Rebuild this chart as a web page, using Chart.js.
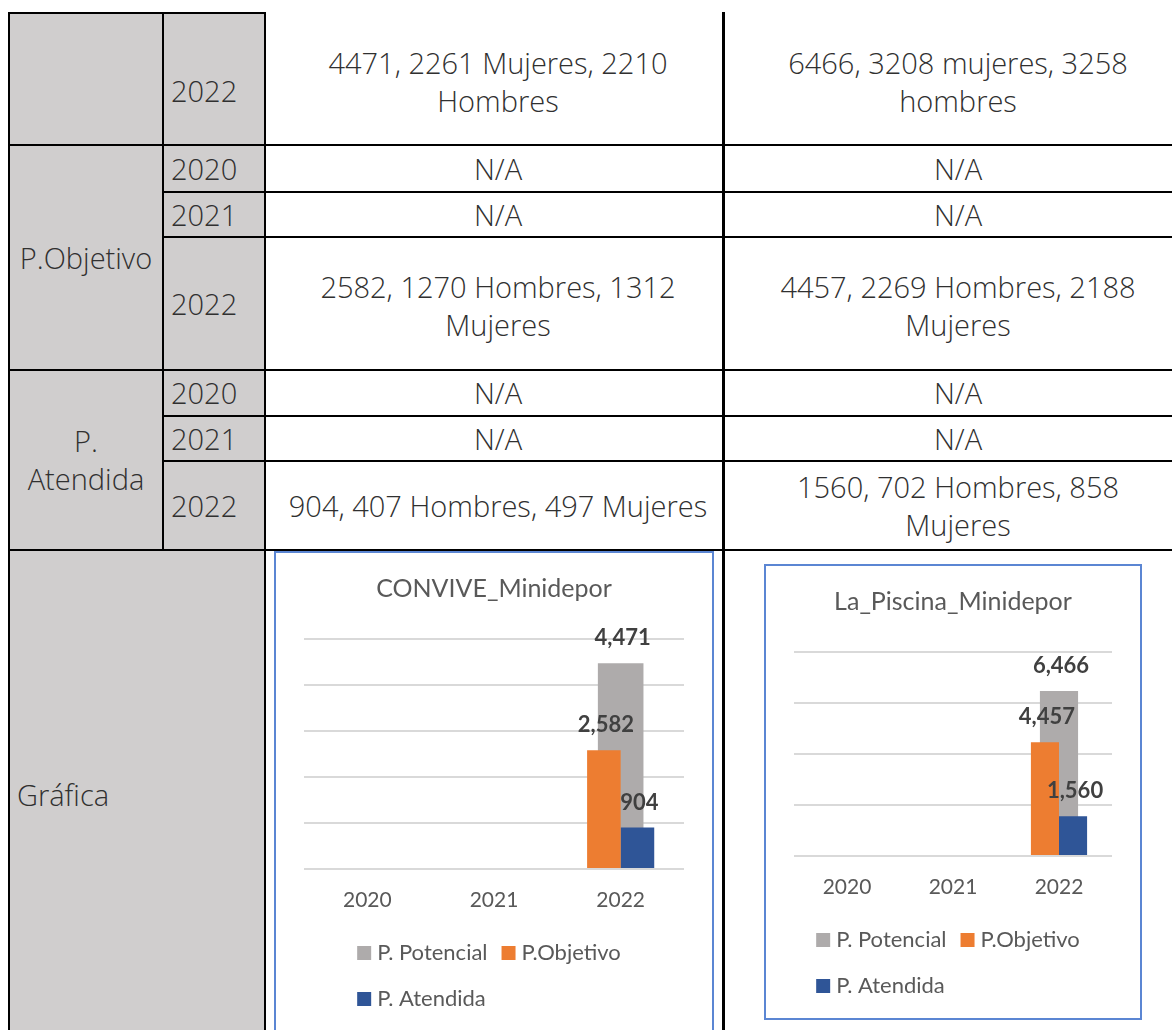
<!DOCTYPE html>
<html lang="es">
<head>
<meta charset="utf-8">
<title>CONVIVE_Minidepor / La_Piscina_Minidepor</title>
<script src="https://cdn.jsdelivr.net/npm/chart.js@4.4.1/dist/chart.umd.min.js"></script>
<style>
  html, body { margin: 0; padding: 0; background: #fff; }
  body { width: 1172px; height: 1030px; overflow: hidden; position: relative;
         font-family: 'Open Sans', sans-serif; font-weight: 300; font-size: 29px; color: #303030; }
  .gris { position: absolute; left: 8px; top: 12px; width: 257px; height: 1030px; background: #d0cece; }
  .lh, .lv { position: absolute; background: #000; }
  .lh { height: 2px; }
  .lv { width: 2px; }
  .t { position: absolute; display: flex; align-items: center; justify-content: center;
       text-align: center; line-height: 38px; white-space: nowrap; height: 60px; }
  .t2 { height: 100px; }
  .izq { justify-content: flex-start; text-align: left; }
  .c1 { left: 10px; width: 152px; }
  .c2 { left: 171px; width: 90px; }
  .c3 { left: 267px; width: 462px; }
  .c4 { left: 726px; width: 464px; }
  .caja { position: absolute; box-sizing: border-box; border: 2px solid #5b86d3; background: #fff; }
  .caja div { position: absolute; left: 0; top: 0; right: 0; bottom: 0; }
</style>
</head>
<body>
<div class="gris"></div>

<!-- columna 1 -->
<div class="t c1" style="top:228px">P.Objetivo</div>
<div class="t t2 c1" style="top:410px">P.<br>Atendida</div>
<div class="t izq" style="left:17px; top:765px">Gráfica</div>

<!-- columna 2 -->
<div class="t izq c2" style="top:61px">2022</div>
<div class="t izq c2" style="top:138.5px">2020</div>
<div class="t izq c2" style="top:184.5px">2021</div>
<div class="t izq c2" style="top:273.5px">2022</div>
<div class="t izq c2" style="top:363px">2020</div>
<div class="t izq c2" style="top:408.5px">2021</div>
<div class="t izq c2" style="top:475.5px">2022</div>

<!-- columna 3 -->
<div class="t t2 c3" style="top:31.5px">4471, 2261 Mujeres, 2210<br>Hombres</div>
<div class="t c3" style="top:138.5px">N/A</div>
<div class="t c3" style="top:184.5px">N/A</div>
<div class="t t2 c3" style="top:255.5px">2582, 1270 Hombres, 1312<br>Mujeres</div>
<div class="t c3" style="top:363px">N/A</div>
<div class="t c3" style="top:408.5px">N/A</div>
<div class="t c3" style="top:476px">904, 407 Hombres, 497 Mujeres</div>

<!-- columna 4 -->
<div class="t t2 c4" style="top:31.5px">6466, 3208 mujeres, 3258<br>hombres</div>
<div class="t c4" style="top:138.5px">N/A</div>
<div class="t c4" style="top:184.5px">N/A</div>
<div class="t t2 c4" style="top:255.5px">4457, 2269 Hombres, 2188<br>Mujeres</div>
<div class="t c4" style="top:363px">N/A</div>
<div class="t c4" style="top:408.5px">N/A</div>
<div class="t t2 c4" style="top:456px">1560, 702 Hombres, 858<br>Mujeres</div>

<!-- bordes -->
<div class="lv" style="left:8px; top:12px; height:1030px"></div>
<div class="lv" style="left:162px; top:12px; height:538px"></div>
<div class="lv" style="left:264px; top:12px; height:1030px"></div>
<div class="lv" style="left:722px; top:12px; height:1030px; width:3px"></div>
<div class="lh" style="left:8px; top:12px; width:258px"></div>
<div class="lh" style="left:8px; top:144px; width:1164px"></div>
<div class="lh" style="left:162px; top:191px; width:1010px"></div>
<div class="lh" style="left:162px; top:236px; width:1010px"></div>
<div class="lh" style="left:8px; top:369px; width:1164px"></div>
<div class="lh" style="left:162px; top:415px; width:1010px"></div>
<div class="lh" style="left:162px; top:460px; width:1010px"></div>
<div class="lh" style="left:8px; top:549px; width:1164px"></div>

<!-- gráficas -->
<div class="caja" style="left:274px; top:551px; width:440px; height:491px"><div><canvas id="convive"></canvas></div></div>
<div class="caja" style="left:764px; top:564px; width:378px; height:456px"><div><canvas id="piscina"></canvas></div></div>

<script>
const years = ['2020', '2021', '2022'];
const series = ['P. Potencial', 'P.Objetivo', 'P. Atendida'];
const colores = ['#aeabab', '#ed7d31', '#2f5597'];

const conviveP = [null, null, 4471];
const conviveO = [null, null, 2582];
const conviveA = [null, null, 904];

const piscinaP = [null, null, 6466];
const piscinaO = [null, null, 4457];
const piscinaA = [null, null, 1560];

Chart.defaults.font.family = "Lato, 'Open Sans', sans-serif";

// valores encima de cada barra
const etiquetas = {
  id: 'etiquetas',
  afterDatasetsDraw(chart) {
    const ctx = chart.ctx;
    ctx.save();
    ctx.font = 'bold 22px Lato';
    ctx.fillStyle = '#404040';
    ctx.textAlign = 'center';
    ctx.textBaseline = 'middle';
    chart.data.datasets.forEach((ds, i) => {
      chart.getDatasetMeta(i).data.forEach((bar, j) => {
        if (ds.data[j] == null) return;
        ctx.fillText(ds.data[j].toLocaleString('en-US'), bar.x + 2, bar.y - 25);
      });
    });
    ctx.restore();
  }
};

// leyenda en dos columnas, como en Excel
const leyenda = {
  id: 'leyenda',
  afterDraw(chart) {
    const ctx = chart.ctx;
    const ds = chart.data.datasets;
    ctx.save();
    ctx.font = '22px Lato';
    ctx.textBaseline = 'middle';
    const w = ds.map(d => 20 + ctx.measureText(d.label).width);
    const x0 = (chart.width - (w[0] + 14 + w[1])) / 2 - 5;
    const cols = [x0, x0 + w[0] + 14];
    ds.forEach((d, i) => {
      const x = cols[i % 2];
      const y = chart.chartArea.bottom + 84 + Math.floor(i / 2) * 46;
      ctx.fillStyle = d.backgroundColor;
      ctx.fillRect(x, y - 7, 14, 14);
      ctx.fillStyle = '#595959';
      ctx.fillText(d.label, x + 20, y);
    });
    ctx.restore();
  }
};

function grafica(id, titulo, datos, yMax, yStep, plotBottom) {
  const el = document.getElementById(id);
  const h = el.parentNode.clientHeight;
  return new Chart(el, {
    type: 'bar',
    data: {
      labels: years,
      datasets: datos.map((d, i) => ({
        label: series[i],
        data: d,
        backgroundColor: colores[i],
        order: i === 0 ? 1 : 0,
        grouped: i !== 0,
        categoryPercentage: i === 0 ? 0.36 : 0.53,
        barPercentage: 1
      }))
    },
    options: {
      responsive: true,
      maintainAspectRatio: false,
      animation: false,
      layout: { padding: { left: 0, right: 0, top: 0, bottom: h - plotBottom - 70 } },
      plugins: {
        legend: { display: false },
        tooltip: { enabled: false },
        title: {
          display: true,
          text: titulo,
          color: '#595959',
          font: { size: 25, weight: 'normal' },
          padding: { top: 21, bottom: 35 }
        }
      },
      scales: {
        x: {
          grid: { display: false },
          border: { display: false },
          ticks: { color: '#595959', font: { size: 21 }, padding: 11 },
          afterFit: s => { s.height = 70; }
        },
        y: {
          min: 0,
          max: yMax,
          ticks: { display: false, stepSize: yStep },
          border: { display: false },
          grid: { color: '#d9d9d9', lineWidth: 2, drawTicks: false },
          afterFit: s => { s.width = 28; }
        },
        derecha: {
          position: 'right',
          ticks: { display: false },
          grid: { display: false },
          border: { display: false },
          afterFit: s => { s.width = 28; }
        }
      }
    },
    plugins: [etiquetas, leyenda]
  });
}

grafica('convive', 'CONVIVE_Minidepor', [conviveP, conviveO, conviveA], 5000, 1000, 316);
grafica('piscina', 'La_Piscina_Minidepor', [piscinaP, piscinaO, piscinaA], 8000, 2000, 290);
</script>
</body>
</html>
